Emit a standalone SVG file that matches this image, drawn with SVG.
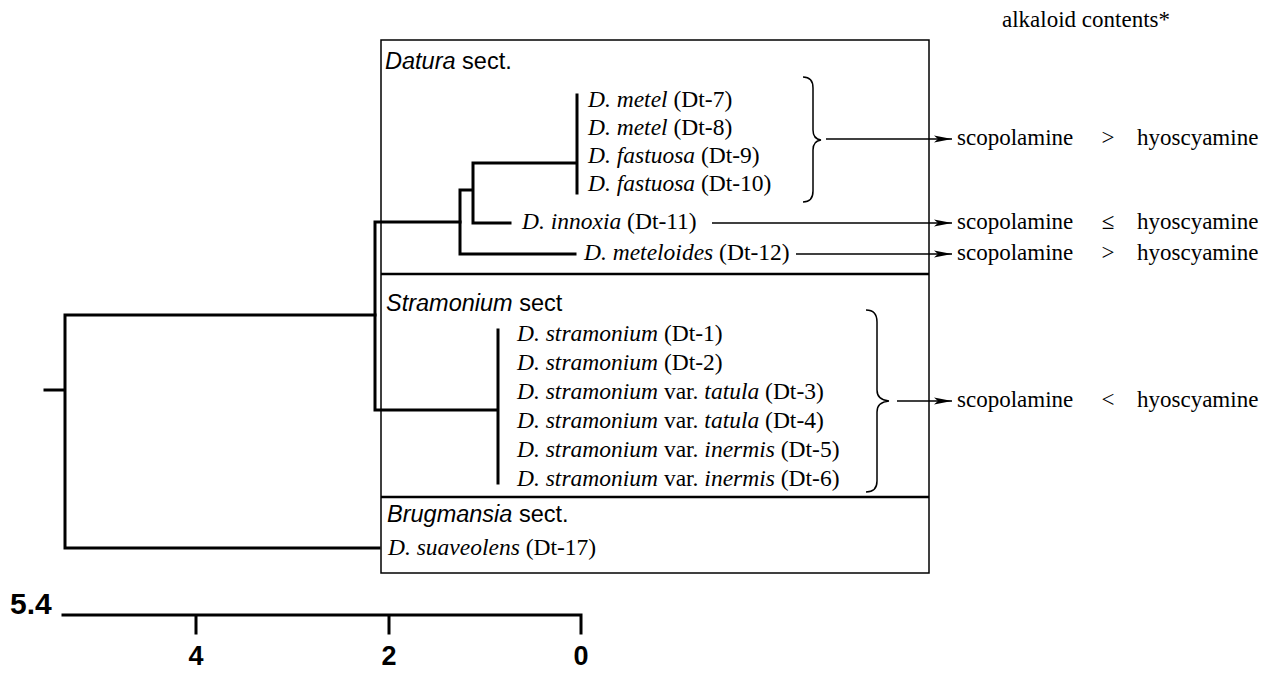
<svg xmlns="http://www.w3.org/2000/svg" width="1274" height="673" viewBox="0 0 1274 673">
<style>
.tx{font-family:"Liberation Serif","Times New Roman",serif;font-size:23px;fill:#000}
.lb{font-size:23.5px}
.it{font-style:italic}
.sec{font-family:"Liberation Sans",Arial,sans-serif;font-size:23.5px;fill:#000}
.num{font-family:"Liberation Sans",Arial,sans-serif;font-weight:bold;font-size:27px;fill:#000}
.tree{stroke:#000;stroke-width:3;fill:none;stroke-linecap:square}
.thin{stroke:#000;stroke-width:1.5;fill:none}
.div{stroke:#000;stroke-width:2.5}
.arr{stroke:#000;stroke-width:1.5;fill:none;marker-end:url(#ah)}
</style>
<defs>
<marker id="ah" markerUnits="userSpaceOnUse" markerWidth="20" markerHeight="10" refX="18" refY="4" orient="auto">
<path d="M0,0.5 L18,4 L0,7.5 L4,4 z" fill="#000"/>
</marker>
</defs>
<rect width="1274" height="673" fill="#fff"/>

<g id="frame">
<rect class="thin" x="381" y="40" width="548" height="533"/>
<line class="div" x1="381" y1="274" x2="929" y2="274"/>
<line class="div" x1="381" y1="497" x2="929" y2="497"/>
</g>

<g id="connectors">
<g id="tree">
<path class="tree" d="M45,390 H65 M65,315 V548 M65,315 H375 M65,548 H379"/>
<path class="tree" d="M375,222 V410 M375,222 H460 M375,410 H498 M498,330 V483"/>
<path class="tree" d="M460,190 V254 M460,254 H575 M460,190 H473 M473,163 V223 M473,223 H510 M473,163 H577 M577,95 V193"/>
</g>
<g id="braces">
<path class="thin" d="M803,77 Q813,77 813,88 L813,130 Q813,139 821,140 Q813,141 813,150 L813,191 Q813,202 803,202"/>
<path class="thin" d="M866,310 Q877,310 877,322 L877,390 Q877,400 889,401 Q877,402 877,412 L877,481 Q877,492 866,492"/>
</g>
<g id="arrows">
<line class="arr" x1="826" y1="139" x2="952" y2="139"/>
<line class="arr" x1="712" y1="223" x2="952" y2="223"/>
<line class="arr" x1="796" y1="254" x2="952" y2="254"/>
<line class="arr" x1="897" y1="401" x2="952" y2="401"/>
</g>
</g>

<g id="header"><text class="tx" x="1002" y="27">alkaloid contents*</text></g>

<g id="sec-datura"><text class="sec" x="385" y="69"><tspan class="it">Datura</tspan> sect.</text></g>
<g id="sec-stramonium"><text class="sec" x="386" y="311"><tspan class="it">Stramonium</tspan> sect</text></g>
<g id="sec-brugmansia"><text class="sec" x="387" y="522"><tspan class="it">Brugmansia</tspan> sect.</text></g>

<g id="dt7"><text class="tx lb" x="588" y="107"><tspan class="it">D. metel</tspan> (Dt-7)</text></g>
<g id="dt8"><text class="tx lb" x="588" y="135"><tspan class="it">D. metel</tspan> (Dt-8)</text></g>
<g id="dt9"><text class="tx lb" x="588" y="163"><tspan class="it">D. fastuosa</tspan> (Dt-9)</text></g>
<g id="dt10"><text class="tx lb" x="588" y="191"><tspan class="it">D. fastuosa</tspan> (Dt-10)</text></g>
<g id="dt11"><text class="tx lb" x="522" y="229"><tspan class="it">D. innoxia</tspan> (Dt-11)</text></g>
<g id="dt12"><text class="tx lb" x="584" y="260"><tspan class="it">D. meteloides</tspan> (Dt-12)</text></g>

<g id="dt1"><text class="tx lb" x="517" y="341"><tspan class="it">D. stramonium</tspan> (Dt-1)</text></g>
<g id="dt2"><text class="tx lb" x="517" y="370"><tspan class="it">D. stramonium</tspan> (Dt-2)</text></g>
<g id="dt3"><text class="tx lb" x="517" y="399"><tspan class="it">D. stramonium</tspan> var. <tspan class="it">tatula</tspan> (Dt-3)</text></g>
<g id="dt4"><text class="tx lb" x="517" y="428"><tspan class="it">D. stramonium</tspan> var. <tspan class="it">tatula</tspan> (Dt-4)</text></g>
<g id="dt5"><text class="tx lb" x="517" y="457"><tspan class="it">D. stramonium</tspan> var. <tspan class="it">inermis</tspan> (Dt-5)</text></g>
<g id="dt6"><text class="tx lb" x="517" y="486"><tspan class="it">D. stramonium</tspan> var. <tspan class="it">inermis</tspan> (Dt-6)</text></g>

<g id="dt17"><text class="tx lb" x="388" y="555"><tspan class="it">D. suaveolens</tspan> (Dt-17)</text></g>

<g id="res1"><text class="tx" x="957" y="145">scopolamine</text><text class="tx" x="1108" y="145" text-anchor="middle">&gt;</text><text class="tx" x="1137" y="145">hyoscyamine</text></g>
<g id="res2"><text class="tx" x="957" y="229">scopolamine</text><text class="tx" x="1108" y="229" text-anchor="middle">≤</text><text class="tx" x="1137" y="229">hyoscyamine</text></g>
<g id="res3"><text class="tx" x="957" y="260">scopolamine</text><text class="tx" x="1108" y="260" text-anchor="middle">&gt;</text><text class="tx" x="1137" y="260">hyoscyamine</text></g>
<g id="res4"><text class="tx" x="957" y="407">scopolamine</text><text class="tx" x="1108" y="407" text-anchor="middle">&lt;</text><text class="tx" x="1137" y="407">hyoscyamine</text></g>

<g id="scale">
<path class="tree" d="M63,615 H581 M196,615 V633 M389,615 V633 M581,615 V633"/>
<text class="num" x="10" y="614" style="font-size:30px">5.4</text>
<text class="num" x="196" y="665" text-anchor="middle">4</text>
<text class="num" x="389" y="665" text-anchor="middle">2</text>
<text class="num" x="581" y="665" text-anchor="middle">0</text>
</g>
</svg>
